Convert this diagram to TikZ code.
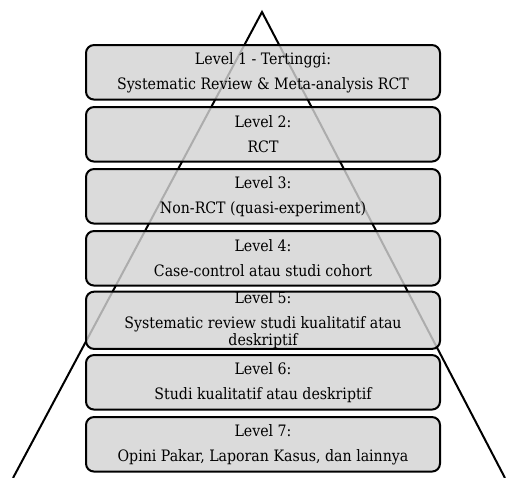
\documentclass[tikz,border=0pt]{standalone}
\usepackage{fontspec}
\setmainfont{DejaVu Serif Condensed}
\begin{document}
\begin{tikzpicture}[x=0.75pt,y=-0.75pt,
  levelbox/.style={draw=black, line width=1.5pt, rounded corners=6pt,
    fill={rgb,255:red,211;green,211;blue,211}, fill opacity=0.82, text opacity=1,
    minimum width=265.5pt, minimum height=40.9pt, inner sep=0pt,
    align=center, font=\fontsize{11.8}{18.75}\selectfont},
  tri/.style={draw=black, line width=1.5pt}]
\useasboundingbox (0,0) rectangle (507,478);
\clip (0,0) rectangle (507,478);
\coordinate (apex) at (262,12);
\coordinate (bl) at (13,478);
\coordinate (br) at (505,478);
\draw[tri] (bl) -- (apex) -- (br);
\node[levelbox] (l1) at (263,72.3) {Level 1 - Tertinggi:\\Systematic Review \& Meta-analysis RCT};
\node[levelbox] (l2) at (263,134.3) {Level 2:\\RCT};
\node[levelbox] (l3) at (263,196.3) {Level 3:\\Non-RCT (quasi-experiment)};
\node[levelbox] (l4) at (263,258.3) {Level 4:\\Case-control atau studi cohort};
\node[levelbox] (l5) at (263,320.3) {Level 5:\\Systematic review studi kualitatif atau\\[-6pt]deskriptif};
\node[levelbox] (l6) at (263,382.3) {Level 6:\\Studi kualitatif atau deskriptif};
\node[levelbox] (l7) at (263,444.3) {Level 7:\\Opini Pakar, Laporan Kasus, dan lainnya};
\end{tikzpicture}
\end{document}
